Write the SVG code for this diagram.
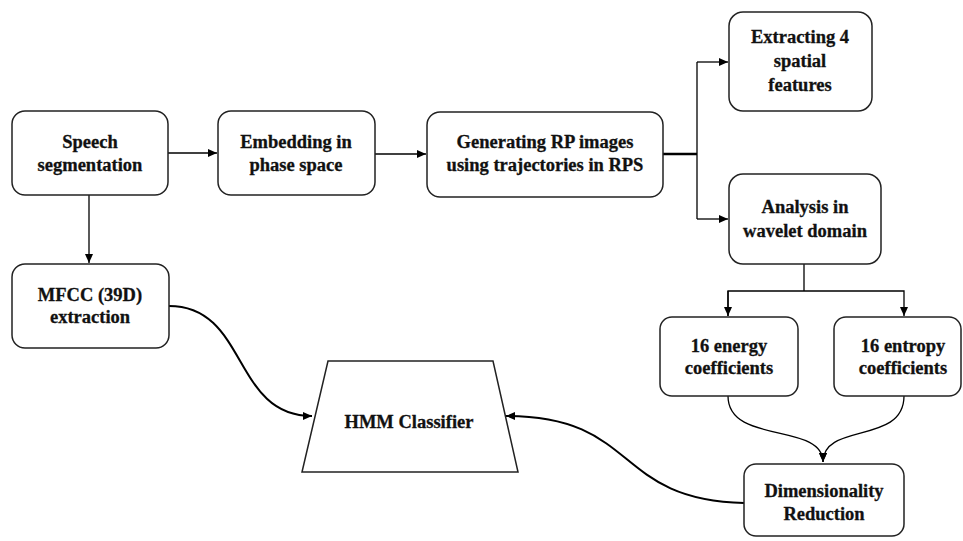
<svg xmlns="http://www.w3.org/2000/svg" width="963" height="541" viewBox="0 0 963 541">
<defs>
<marker id="ah" markerUnits="userSpaceOnUse" markerWidth="10" markerHeight="8" refX="9" refY="4" orient="auto">
<path d="M0,0 L9,4 L0,8 Z" fill="#000"/>
</marker>
<style>
.box{fill:#fff;stroke:#222;stroke-width:1.5}
text{font-family:'Liberation Serif','Times New Roman',serif;font-weight:bold;font-size:18.5px;fill:#111;stroke:#111;stroke-width:0.3;text-anchor:middle}
.c{fill:none;stroke:#000;stroke-width:1.3}
.cv{fill:none;stroke:#000;stroke-width:2}
</style>
</defs>
<rect width="963" height="541" fill="#fff"/>
<g id="connectors">
<line class="c" x1="168" y1="153" x2="217" y2="153" marker-end="url(#ah)"/>
<line class="c" x1="375" y1="154" x2="426" y2="154" marker-end="url(#ah)"/>
<line class="c" x1="89" y1="195" x2="89" y2="263" marker-end="url(#ah)"/>
<line x1="663" y1="154" x2="697" y2="154" stroke="#000" stroke-width="2.5"/>
<polyline class="c" points="697,62 697,219"/>
<line class="c" x1="697" y1="62" x2="728" y2="62" marker-end="url(#ah)"/>
<line class="c" x1="697" y1="219" x2="728" y2="219" marker-end="url(#ah)"/>
<line class="c" x1="804" y1="264" x2="804" y2="291"/>
<polyline class="c" points="728,316 728,291 904,291 904,316" stroke-width="1.8" marker-end="url(#ah)"/>
<line class="c" x1="728" y1="291" x2="728" y2="316" marker-end="url(#ah)"/>
<path class="c" d="M728,396 C728,445 823,422 823,462" marker-end="url(#ah)"/>
<path class="c" d="M904,396 C904,445 823,422 823,462" marker-end="url(#ah)"/>
<path class="cv" d="M169,306 C248,306 232,416 312,416" marker-end="url(#ah)"/>
<path class="cv" d="M744,503 C612,500 640,416 506,416" marker-end="url(#ah)"/>
</g>
<g id="speech">
<rect class="box" x="12" y="111" width="156" height="84" rx="13"/>
<text x="90" y="148">Speech</text>
<text x="90" y="171">segmentation</text>
</g>
<g id="embedding">
<rect class="box" x="218" y="111" width="157" height="84" rx="13"/>
<text x="296" y="148">Embedding in</text>
<text x="296" y="171">phase space</text>
</g>
<g id="generating">
<rect class="box" x="427" y="112" width="236" height="85" rx="13"/>
<text x="545" y="148">Generating RP images</text>
<text x="545" y="171">using trajectories in RPS</text>
</g>
<g id="extracting">
<rect class="box" x="729" y="12" width="143" height="99" rx="14"/>
<text x="800" y="43">Extracting 4</text>
<text x="800" y="67">spatial</text>
<text x="800" y="91">features</text>
</g>
<g id="analysis">
<rect class="box" x="729" y="174" width="152" height="90" rx="14"/>
<text x="805" y="213">Analysis in</text>
<text x="805" y="237">wavelet domain</text>
</g>
<g id="energy">
<rect class="box" x="660" y="317" width="138" height="79" rx="12"/>
<text x="729" y="352">16 energy</text>
<text x="729" y="374">coefficients</text>
</g>
<g id="entropy">
<rect class="box" x="834" y="317" width="127" height="79" rx="12"/>
<text x="903" y="352">16 entropy</text>
<text x="903" y="374">coefficients</text>
</g>
<g id="dimensionality">
<rect class="box" x="744" y="464" width="160" height="72" rx="12"/>
<text x="824" y="497">Dimensionality</text>
<text x="824" y="520">Reduction</text>
</g>
<g id="mfcc">
<rect class="box" x="12" y="264" width="157" height="84" rx="13"/>
<text x="90" y="301">MFCC (39D)</text>
<text x="90" y="323">extraction</text>
</g>
<g id="hmm">
<polygon class="box" points="328,361 493,361 518,472 302,472"/>
<text x="409" y="428">HMM Classifier</text>
</g>
</svg>
